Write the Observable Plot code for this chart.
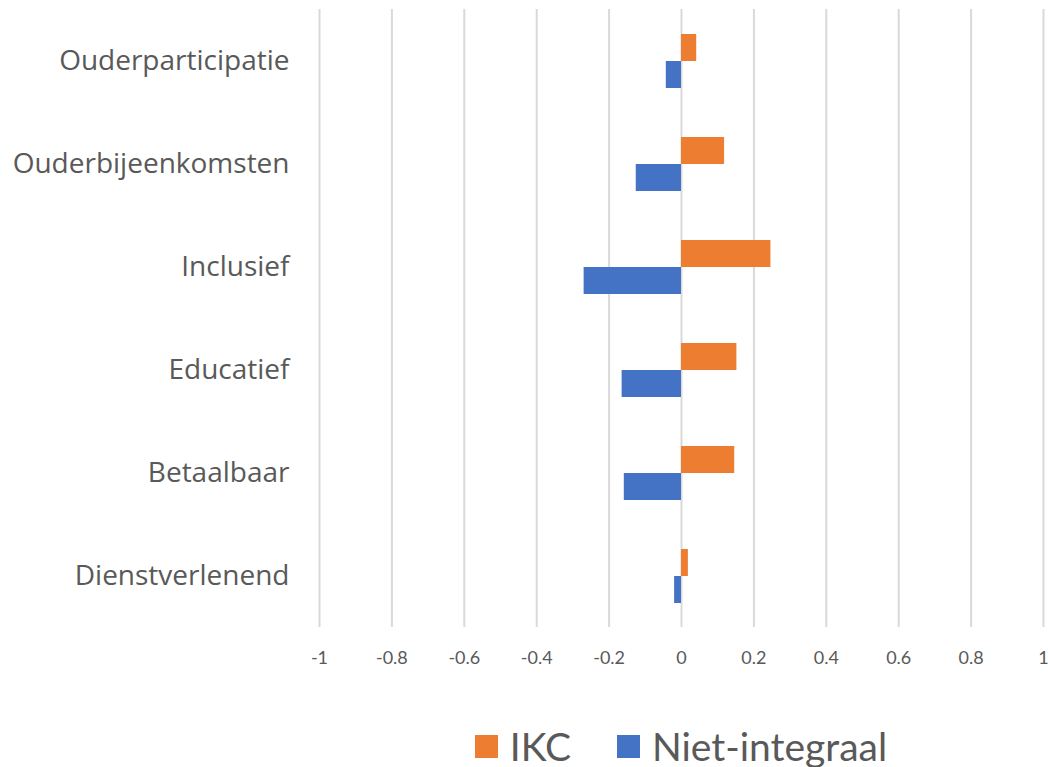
<!DOCTYPE html>
<html>
<head>
<meta charset="utf-8">
<script src="https://cdn.jsdelivr.net/npm/d3@7"></script>
<script src="https://cdn.jsdelivr.net/npm/@observablehq/plot@0.6"></script>
<style>
  html, body { margin: 0; padding: 0; background: #fff; overflow: hidden; }
  #wrap { position: relative; width: 1048px; height: 767px; font-family: Lato, "Open Sans", sans-serif; }
  #legend { position: absolute; left: 319px; width: 724px; top: 726px; height: 40px; display: flex; justify-content: center; align-items: center; gap: 46px; color: #595959; font-size: 39px; line-height: 1; }
  .item { display: flex; align-items: center; gap: 12px; }
  .sw { width: 23px; height: 23px; display: inline-block; }
</style>
</head>
<body>
<div id="wrap"><div id="chart"></div><div id="legend"></div></div>
<script>
const categories = ["Ouderparticipatie", "Ouderbijeenkomsten", "Inclusief", "Educatief", "Betaalbaar", "Dienstverlenend"];
const seriesNames = ["IKC", "Niet-integraal"];
const ikc = [0.042, 0.119, 0.247, 0.153, 0.147, 0.019];
const nietIntegraal = [-0.042, -0.125, -0.269, -0.164, -0.158, -0.019];
const xTicks = [-1, -0.8, -0.6, -0.4, -0.2, 0, 0.2, 0.4, 0.6, 0.8, 1];
const colors = ["#ED7D31", "#4472C4"];

const rows = categories.flatMap((c, i) => [
  {cat: c, series: seriesNames[0], value: ikc[i]},
  {cat: c, series: seriesNames[1], value: nietIntegraal[i]}
]);

const chart = Plot.plot({
  width: 1048,
  height: 690,
  marginTop: 8,
  marginBottom: 62,
  marginLeft: 319,
  marginRight: 5,
  style: {fontFamily: "Lato, 'Open Sans', sans-serif", color: "#595959", background: "#fff", overflow: "visible"},
  x: {domain: [-1, 1]},
  y: {domain: seriesNames, paddingInner: 0, paddingOuter: 0.9, axis: null},
  fy: {domain: categories, padding: 0},
  color: {domain: seriesNames, range: colors},
  marks: [
    Plot.ruleX(xTicks, {stroke: "#d9d9d9", strokeWidth: 2}),
    Plot.barX(rows, {x: "value", y: "series", fy: "cat", fill: "series"}),
    Plot.axisX({ticks: xTicks, tickFormat: d => String(d), tickSize: 0, tickPadding: 24, fontSize: 18, label: null}),
    Plot.axisFy({anchor: "left", tickSize: 0, tickPadding: 30, fontSize: 28, fontFamily: "'Open Sans', sans-serif", label: null})
  ]
});
document.getElementById("chart").appendChild(chart);

const legend = document.getElementById("legend");
seriesNames.forEach((s, i) => {
  const item = document.createElement("div");
  item.className = "item";
  const sw = document.createElement("span");
  sw.className = "sw";
  sw.style.background = colors[i];
  const t = document.createElement("span");
  t.textContent = s;
  item.appendChild(sw);
  item.appendChild(t);
  legend.appendChild(item);
});
</script>
</body>
</html>
